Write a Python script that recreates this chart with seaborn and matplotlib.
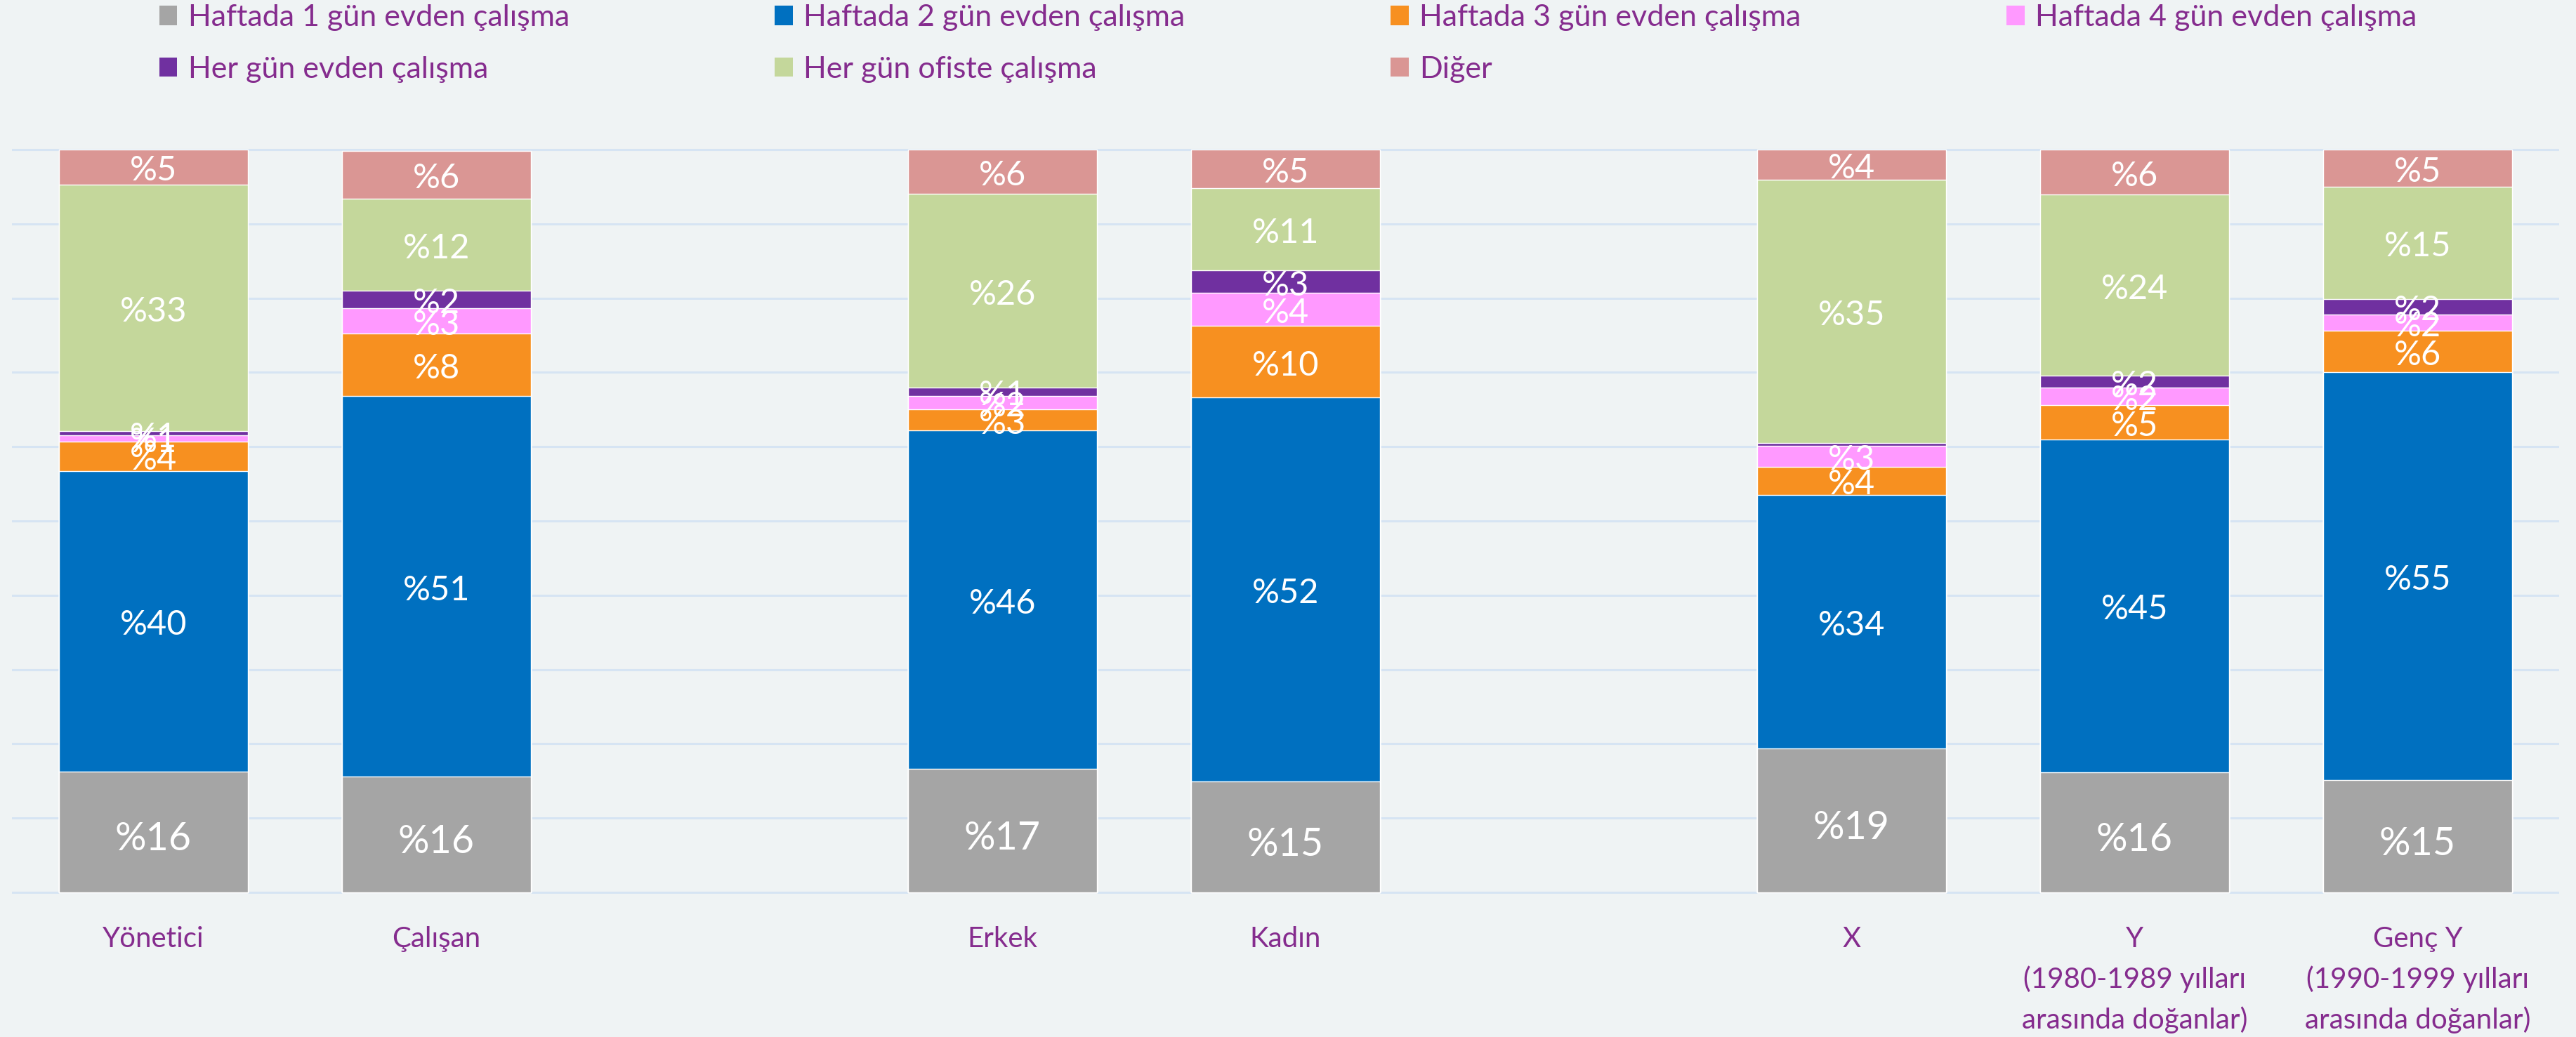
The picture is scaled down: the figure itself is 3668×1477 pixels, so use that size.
import pandas as pd
import matplotlib
matplotlib.use("Agg")
import matplotlib.pyplot as plt
from matplotlib.patches import Patch
from matplotlib.transforms import offset_copy
import seaborn as sns

# categories (bars), with gaps between the three groups
categories = ["Yönetici", "Çalışan", "Erkek", "Kadın", "X",
              "Y\n(1980-1989 yılları\narasında doğanlar)",
              "Genç Y\n(1990-1999 yılları\narasında doğanlar)"]
x_pos = [0, 1, 3, 4, 6, 7, 8]

series_names = ["Haftada 1 gün evden çalışma", "Haftada 2 gün evden çalışma",
                "Haftada 3 gün evden çalışma", "Haftada 4 gün evden çalışma",
                "Her gün evden çalışma", "Her gün ofiste çalışma", "Diğer"]

# shares in percent
haftada_1 = [16.3, 15.6, 16.6, 14.9, 19.4, 16.2, 15.1]
haftada_2 = [40.4, 51.2, 45.6, 51.7, 34.1, 44.8, 54.9]
haftada_3 = [4.0, 8.4, 2.8, 9.7, 3.8, 4.6, 5.6]
haftada_4 = [0.8, 3.4, 1.8, 4.4, 2.8, 2.4, 2.2]
her_gun_ev = [0.6, 2.4, 1.2, 3.0, 0.4, 1.6, 2.1]
her_gun_ofis = [33.2, 12.4, 26.0, 11.1, 35.4, 24.3, 15.1]
diger = [4.7, 6.4, 6.0, 5.2, 4.1, 6.1, 5.0]

colors = ["#A5A5A5", "#0070C0", "#F79020", "#FF99FF", "#7030A0", "#C4D79B", "#DA9694"]
bg = "#EFF3F4"
grid_color = "#D6E4F3"
purple = "#852C8E"

df = pd.DataFrame(dict(zip(series_names,
                           [haftada_1, haftada_2, haftada_3, haftada_4,
                            her_gun_ev, her_gun_ofis, diger])),
                  index=categories)
cum = df.cumsum(axis=1)

sns.set_theme(style="white")
plt.rcParams["font.family"] = ["Lato", "DejaVu Sans"]

fig = plt.figure(figsize=(36.68, 14.77), dpi=100, facecolor=bg)
ax = fig.add_axes([0.00463, 0.1359, 0.98882, 0.7271], facecolor=bg)

# stacked bars: draw cumulative totals from the top layer down
for name, color in reversed(list(zip(series_names, colors))):
    sns.barplot(x=x_pos, y=cum[name].values, native_scale=True, color=color,
                saturation=1, width=0.667, errorbar=None, ax=ax, zorder=2)

# value labels (nudged down a little so the digits sit centred)
big_tr = offset_copy(ax.transData, fig=fig, y=-8, units="points")
small_tr = offset_copy(ax.transData, fig=fig, y=-4, units="points")
for i, x in enumerate(x_pos):
    for name in series_names:
        v = df[name].iloc[i]
        if round(v) == 0:
            continue
        mid = cum[name].iloc[i] - v / 2
        first = name == series_names[0]
        ax.text(x, mid, f"%{v:.0f}", ha="center", va="center",
                color="white", fontsize=40 if first else 35,
                transform=big_tr if first else small_tr, zorder=3)

ax.set_xlim(-0.5, 8.5)
ax.set_ylim(-0.5, 101)
ax.set_yticks(range(0, 101, 10))
ax.yaxis.grid(True, color=grid_color, lw=2.2)
ax.set_axisbelow(True)
ax.tick_params(axis="y", left=False, labelleft=False)
ax.set_xticks(x_pos)
ax.set_xticklabels(categories, color=purple, fontsize=29, linespacing=1.6)
ax.tick_params(axis="x", length=0, pad=31)
ax.set_xlabel("")
ax.set_ylabel("")
sns.despine(ax=ax, left=True, bottom=True)

handles = [Patch(facecolor=c, edgecolor="none") for c in colors]
order = [0, 4, 1, 5, 2, 6, 3]
fig.legend([handles[i] for i in order], [series_names[i] for i in order],
           ncol=4, loc="center", bbox_to_anchor=(0.5, 0.958), frameon=False,
           fontsize=31, handlelength=0.6, handleheight=0.6, handletextpad=0.35,
           columnspacing=6.8, labelspacing=0.83, labelcolor=purple, borderpad=0)

fig.savefig("out.png", dpi=100, facecolor=bg)
